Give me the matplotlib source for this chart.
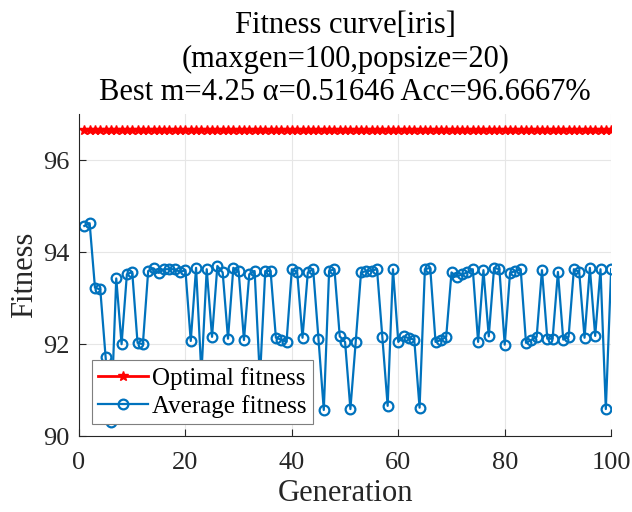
import matplotlib
matplotlib.use('Agg')
import matplotlib.pyplot as plt
import numpy as np

generations = np.arange(1, 101)
best_acc = 96.6667
optimal_fitness = [best_acc] * 100
average_fitness = [
    94.57, 94.63, 93.23, 93.19, 91.72, 90.31, 93.43, 92.00, 93.52, 93.57,
    92.03, 92.00, 93.59, 93.65, 93.55, 93.63, 93.63, 93.63, 93.57, 93.61,
    92.07, 93.66, 91.35, 93.63, 92.16, 93.70, 93.56, 92.12, 93.66, 93.59,
    92.09, 93.52, 93.59, 91.25, 93.59, 93.59, 92.14, 92.10, 92.05, 93.63,
    93.57, 92.14, 93.56, 93.63, 92.12, 90.57, 93.59, 93.63, 92.17, 92.05,
    90.59, 92.05, 93.56, 93.59, 93.60, 93.63, 92.16, 90.66, 93.63, 92.05,
    92.17, 92.13, 92.10, 90.62, 93.63, 93.66, 92.05, 92.09, 92.16, 93.56,
    93.47, 93.52, 93.56, 93.63, 92.05, 93.61, 92.17, 93.66, 93.63, 91.99,
    93.55, 93.59, 93.63, 92.03, 92.09, 92.16, 93.61, 92.12, 92.12, 93.57,
    92.10, 92.16, 93.63, 93.57, 92.14, 93.66, 92.18, 93.63, 90.59, 93.63,
]

plt.rcParams['font.family'] = ['Liberation Serif', 'DejaVu Serif']

fig = plt.figure(figsize=(6.32, 5.12), dpi=100)
ax = fig.add_axes([0.125, 0.148, 0.842, 0.629])

ax.plot(generations, optimal_fitness, color='red', marker='*', markersize=7,
        linewidth=2, label='Optimal fitness')
ax.plot(generations, average_fitness, color='#0072BD', marker='o', markersize=7,
        markerfacecolor='none', markeredgewidth=1.6, linewidth=1.6, label='Average fitness')

ax.set_xlim(0, 100)
ax.set_ylim(90, 97)
ax.set_xticks([0, 20, 40, 60, 80, 100])
ax.set_yticks([90, 92, 94, 96])
ax.tick_params(direction='in', labelsize=19, length=5, width=0.8, colors='#262626')
ax.tick_params(axis='x', pad=11)
ax.tick_params(axis='y', pad=7)
ax.spines['top'].set_visible(False)
ax.spines['right'].set_visible(False)
for s in ['left', 'bottom']:
    ax.spines[s].set_color('#262626')
ax.grid(True, color='#e6e6e6', linewidth=0.8)
ax.set_axisbelow(True)

ax.set_xlabel('Generation', fontsize=22, color='#262626', labelpad=4)
ax.set_ylabel('Fitness', fontsize=22, color='#262626', labelpad=3)
ax.set_title('Fitness curve[iris]\n(maxgen=100,popsize=20)\nBest m=4.25 α=0.51646 Acc=96.6667%',
             fontsize=22, linespacing=1.2, pad=10)

leg = ax.legend(loc='lower left', bbox_to_anchor=(0.024, 0.037), fontsize=18,
                fancybox=False, framealpha=1, edgecolor='#7f7f7f',
                handlelength=2.0, borderpad=0.25, labelspacing=0.22, handletextpad=0.15,
                borderaxespad=0)
leg.get_frame().set_linewidth(0.8)

fig.savefig('out.png', dpi=100)
